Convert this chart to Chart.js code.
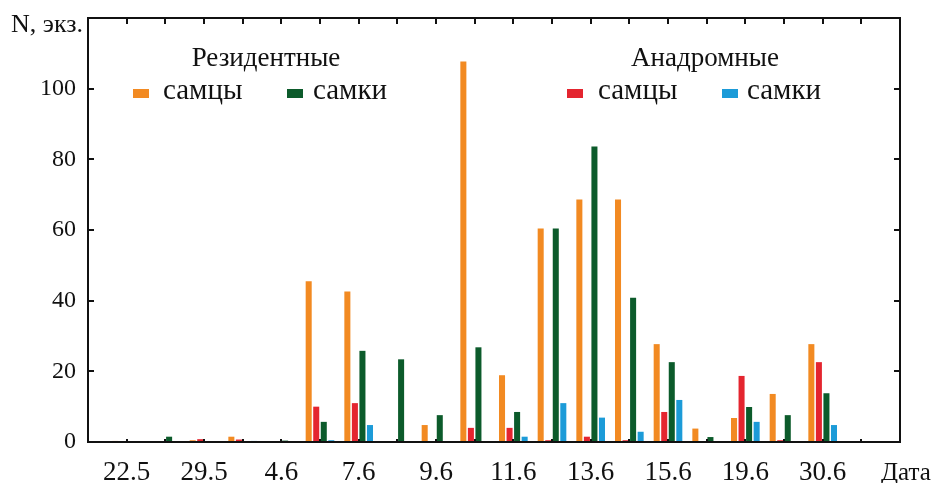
<!DOCTYPE html>
<html>
<head>
<meta charset="utf-8">
<script src="https://cdn.jsdelivr.net/npm/chart.js@4.4.0/dist/chart.umd.min.js"></script>
<style>
  html, body { margin: 0; padding: 0; background: #fff; }
  canvas { display: block; }
</style>
</head>
<body>
<canvas id="chart" width="934" height="483"></canvas>
<script>
// sampling dates (only every other one is labelled on the axis)
const dates = ['22.5', '', '29.5', '', '4.6', '', '7.6', '', '9.6', '', '11.6', '', '13.6', '', '15.6', '', '19.6', '', '30.6', ''];

// resident fish
const resMales   = [0.3, 0, 0.5, 1.5, 0, 45.5, 42.6, 0, 4.8, 107.7, 18.9, 60.4, 68.6, 68.6, 27.7, 3.8, 6.8, 13.6, 27.7, 0];
const resFemales = [0, 1.5, 0, 0, 0.4, 5.7, 25.8, 23.4, 7.6, 26.8, 8.5, 60.4, 83.6, 40.8, 22.6, 1.4, 9.9, 7.6, 13.8, 0];
// anadromous fish
const anaMales   = [0, 0, 0.8, 0.7, 0, 10, 11, 0, 0, 4, 4, 0.5, 1.5, 0.5, 8.5, 0, 18.7, 0.5, 22.6, 0];
const anaFemales = [0, 0, 0, 0.3, 0, 0.5, 4.8, 0, 0, 0, 1.5, 11, 6.9, 2.9, 11.9, 0, 5.7, 0, 4.8, 0];

const yTicks = [0, 20, 40, 60, 80, 100];

const SERIF = '"Liberation Serif", "DejaVu Serif", serif';
const INK = '#111';
const C_ORANGE = '#f28a22';
const C_RED    = '#e4252f';
const C_GREEN  = '#0c5b2b';
const C_BLUE   = '#1c9bd8';

const pts = arr => arr.map((v, i) => ({ x: i, y: v }));

function barSet(label, arr, color) {
  return {
    label: label,
    data: pts(arr),
    backgroundColor: color,
    borderWidth: 0,
    categoryPercentage: 0.78,
    barPercentage: 0.8
  };
}

// frame, inward ticks, legend blocks and axis captions
const decor = {
  id: 'decor',
  afterDatasetsDraw(chart) {
    const { ctx, chartArea: a, scales } = chart;
    const xs = scales.x, ys = scales.y;
    ctx.save();
    ctx.strokeStyle = INK;
    ctx.lineWidth = 2;
    ctx.strokeRect(a.left, a.top, a.right - a.left, a.bottom - a.top);

    ctx.beginPath();
    dates.forEach((d, i) => {
      const px = Math.round(xs.getPixelForValue(i));
      ctx.moveTo(px, a.top); ctx.lineTo(px, a.top + 6);
      ctx.moveTo(px, a.bottom); ctx.lineTo(px, a.bottom - 3);
    });
    yTicks.concat([120]).forEach(v => {
      const py = Math.round(ys.getPixelForValue(v));
      ctx.moveTo(a.left, py); ctx.lineTo(a.left + 6, py);
      ctx.moveTo(a.right, py); ctx.lineTo(a.right - 6, py);
    });
    ctx.stroke();
    ctx.restore();
  },
  afterDraw(chart) {
    const { ctx } = chart;
    const ds = chart.data.datasets;
    ctx.save();
    ctx.fillStyle = INK;
    ctx.textBaseline = 'alphabetic';

    ctx.font = '26px ' + SERIF;
    ctx.textAlign = 'left';
    ctx.fillText('N, экз.', 11, 32);
    ctx.font = '25px ' + SERIF;
    ctx.fillText('Дата', 881, 480);

    ctx.font = '27px ' + SERIF;
    ctx.textAlign = 'center';
    ctx.fillText('Резидентные', 266, 66);
    ctx.fillText('Анадромные', 705, 66);

    const items = [
      { ds: ds[0], sx: 133, tx: 163 },
      { ds: ds[2], sx: 287, tx: 313 },
      { ds: ds[1], sx: 567, tx: 598 },
      { ds: ds[3], sx: 722, tx: 747 }
    ];
    ctx.font = '29px ' + SERIF;
    ctx.textAlign = 'left';
    items.forEach(it => {
      ctx.fillStyle = it.ds.backgroundColor;
      ctx.fillRect(it.sx, 89, 16, 9);
      ctx.fillStyle = INK;
      ctx.fillText(it.ds.label, it.tx, 99);
    });
    ctx.restore();
  }
};

new Chart(document.getElementById('chart'), {
  type: 'bar',
  data: {
    datasets: [
      barSet('самцы', resMales, C_ORANGE),
      barSet('самцы', anaMales, C_RED),
      barSet('самки', resFemales, C_GREEN),
      barSet('самки', anaFemales, C_BLUE)
    ]
  },
  options: {
    responsive: false,
    animation: false,
    devicePixelRatio: 1,
    layout: { padding: { top: 18, right: 34, left: 0, bottom: 0 } },
    plugins: {
      legend: { display: false },
      tooltip: { enabled: false }
    },
    scales: {
      x: {
        type: 'linear',
        offset: false,
        min: -1,
        max: 20,
        grid: { display: false, drawTicks: false },
        border: { display: false },
        afterFit: s => { s.height = 41; s.paddingLeft = 0; s.paddingRight = 0; },
        afterBuildTicks: s => {
          s.ticks = dates.map((d, i) => ({ value: i }));
        },
        ticks: {
          autoSkip: false,
          maxRotation: 0,
          padding: 15,
          color: INK,
          font: { family: SERIF, size: 27 },
          callback: v => dates[v] || ''
        }
      },
      y: {
        min: 0,
        max: 120,
        grid: { display: false, drawTicks: false },
        border: { display: false },
        afterFit: s => { s.width = 88; s.paddingTop = 0; s.paddingBottom = 0; },
        afterBuildTicks: s => {
          s.ticks = yTicks.map(v => ({ value: v }));
        },
        ticks: {
          padding: 12,
          color: INK,
          font: { family: SERIF, size: 24 }
        }
      }
    }
  },
  plugins: [decor]
});
</script>
</body>
</html>
